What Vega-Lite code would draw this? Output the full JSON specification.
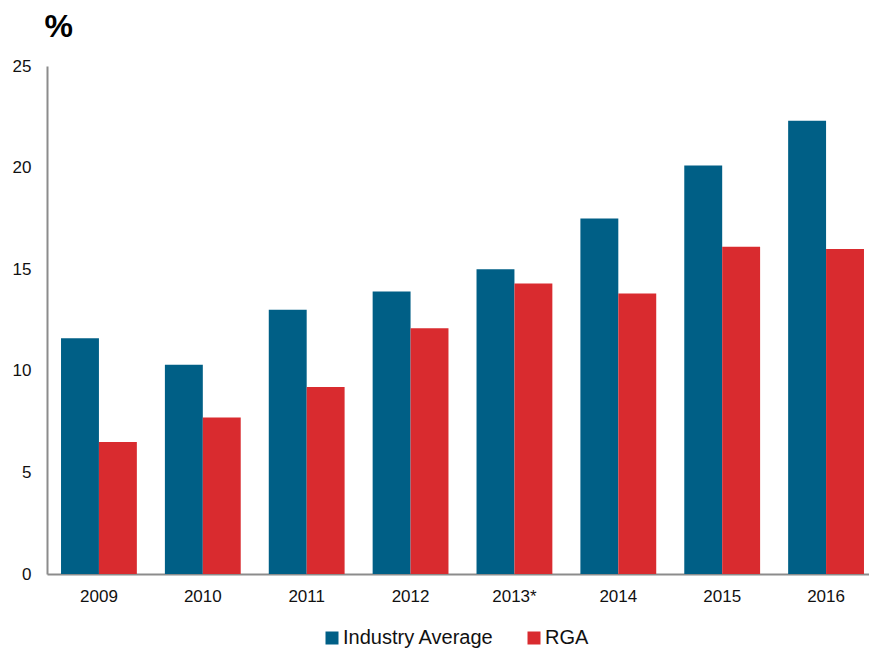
{
  "$schema": "https://vega.github.io/schema/vega-lite/v6.json",
  "autosize": {"type": "none"},
  "padding": {"left": 47, "top": 66, "right": 0, "bottom": 74},
  "width": 822,
  "height": 508,
  "background": "white",
  "config": {
    "view": {"stroke": null},
    "font": "Liberation Sans"
  },
  "data": {
    "values": [
      {"year": "2009", "series": "Industry Average", "value": 11.6},
      {"year": "2009", "series": "RGA", "value": 6.5},
      {"year": "2010", "series": "Industry Average", "value": 10.3},
      {"year": "2010", "series": "RGA", "value": 7.7},
      {"year": "2011", "series": "Industry Average", "value": 13.0},
      {"year": "2011", "series": "RGA", "value": 9.2},
      {"year": "2012", "series": "Industry Average", "value": 13.9},
      {"year": "2012", "series": "RGA", "value": 12.1},
      {"year": "2013*", "series": "Industry Average", "value": 15.0},
      {"year": "2013*", "series": "RGA", "value": 14.3},
      {"year": "2014", "series": "Industry Average", "value": 17.5},
      {"year": "2014", "series": "RGA", "value": 13.8},
      {"year": "2015", "series": "Industry Average", "value": 20.1},
      {"year": "2015", "series": "RGA", "value": 16.1},
      {"year": "2016", "series": "Industry Average", "value": 22.3},
      {"year": "2016", "series": "RGA", "value": 16.0}
    ]
  },
  "mark": {"type": "bar"},
  "encoding": {
    "x": {
      "field": "year",
      "type": "nominal",
      "sort": null,
      "scale": {"paddingInner": 0.27, "paddingOuter": 0.135, "range": [0, 831]},
      "axis": {
        "title": null,
        "labelAngle": 0,
        "labelFontSize": 17,
        "labelColor": "#111",
        "labelPadding": 14,
        "ticks": false,
        "domainColor": "#8c8c8c",
        "domainWidth": 2
      }
    },
    "xOffset": {"field": "series", "type": "nominal", "scale": {"paddingInner": 0, "paddingOuter": 0}},
    "y": {
      "field": "value",
      "type": "quantitative",
      "scale": {"domain": [0, 25], "nice": false},
      "axis": {
        "values": [0, 5, 10, 15, 20, 25],
        "grid": false,
        "ticks": false,
        "labelFontSize": 17,
        "labelColor": "#111",
        "labelPadding": 16,
        "domainColor": "#8c8c8c",
        "domainWidth": 2,
        "title": "%",
        "titleAngle": 0,
        "titleAlign": "left",
        "titleBaseline": "alphabetic",
        "titleX": -3,
        "titleY": -30,
        "titleFontSize": 32,
        "titleFontWeight": "bold",
        "titleColor": "#000"
      }
    },
    "color": {
      "field": "series",
      "type": "nominal",
      "scale": {"domain": ["Industry Average", "RGA"], "range": ["#005F86", "#D92B2F"]},
      "legend": {
        "title": null,
        "orient": "none",
        "legendX": 275,
        "legendY": 562,
        "direction": "horizontal",
        "symbolType": "square",
        "symbolSize": 169,
        "symbolStrokeWidth": 0,
        "symbolOpacity": 1,
        "labelFontSize": 20,
        "labelColor": "#111",
        "labelOffset": 1,
        "columnPadding": 30
      }
    }
  }
}
